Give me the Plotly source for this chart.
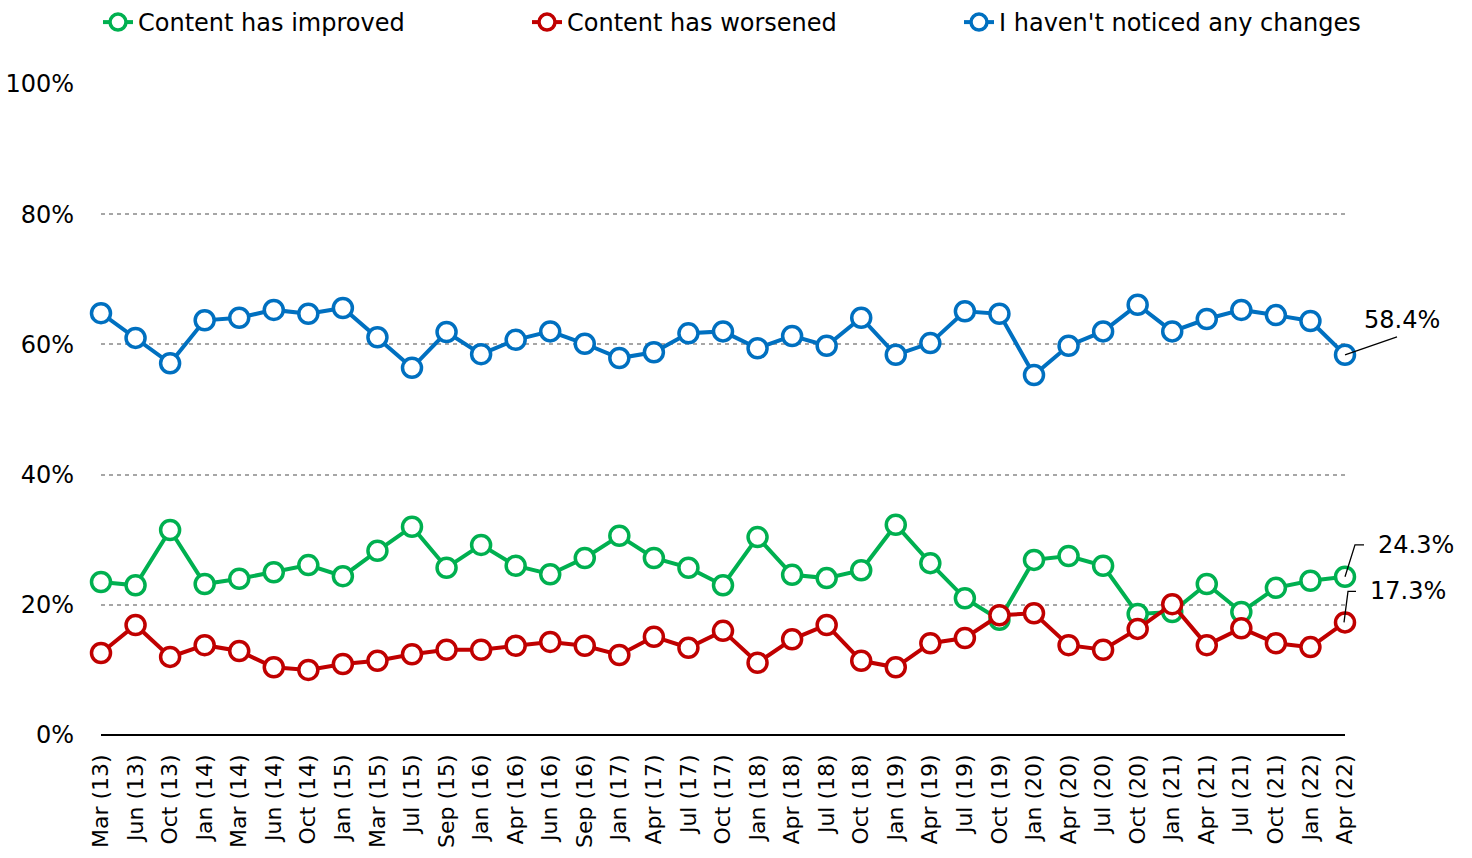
import plotly.graph_objects as go

periods = ["Mar (13)", "Jun (13)", "Oct (13)", "Jan (14)", "Mar (14)", "Jun (14)", "Oct (14)",
           "Jan (15)", "Mar (15)", "Jul (15)", "Sep (15)", "Jan (16)", "Apr (16)", "Jun (16)",
           "Sep (16)", "Jan (17)", "Apr (17)", "Jul (17)", "Oct (17)", "Jan (18)", "Apr (18)",
           "Jul (18)", "Oct (18)", "Jan (19)", "Apr (19)", "Jul (19)", "Oct (19)", "Jan (20)",
           "Apr (20)", "Jul (20)", "Oct (20)", "Jan (21)", "Apr (21)", "Jul (21)", "Oct (21)",
           "Jan (22)", "Apr (22)"]

improved = [23.5, 23.0, 31.5, 23.2, 24.0, 25.0, 26.1, 24.4, 28.3, 32.0, 25.7, 29.2, 26.0,
            24.7, 27.2, 30.6, 27.2, 25.7, 23.0, 30.4, 24.6, 24.1, 25.3, 32.3, 26.4, 21.0,
            17.7, 26.9, 27.5, 26.0, 18.6, 18.9, 23.2, 18.9, 22.6, 23.7, 24.3]

worsened = [12.6, 16.9, 12.0, 13.8, 12.9, 10.4, 10.0, 10.9, 11.4, 12.4, 13.1, 13.1, 13.7,
            14.3, 13.7, 12.3, 15.1, 13.4, 16.0, 11.1, 14.7, 16.9, 11.4, 10.4, 14.1, 14.9,
            18.4, 18.7, 13.8, 13.1, 16.3, 20.1, 13.8, 16.4, 14.1, 13.5, 17.3]

no_change = [64.8, 61.0, 57.1, 63.7, 64.1, 65.3, 64.7, 65.6, 61.1, 56.4, 61.9, 58.5, 60.7,
             62.0, 60.1, 57.9, 58.8, 61.7, 62.0, 59.4, 61.3, 59.8, 64.1, 58.4, 60.2, 65.1,
             64.7, 55.3, 59.8, 62.0, 66.1, 62.0, 63.9, 65.3, 64.5, 63.6, 58.4]

series = [
    ("Content has improved", improved, "#00B050", "legend", 98),
    ("Content has worsened", worsened, "#C00000", "legend2", 527),
    ("I haven't noticed any changes", no_change, "#0070C0", "legend3", 959),
]

FONT = "'DejaVu Sans', Verdana, sans-serif"
W, H = 1472, 858

fig = go.Figure()
legends = {}
for name, vals, col, leg, lx in series:
    fig.add_trace(go.Scatter(
        x=list(range(len(periods))), y=vals, name=name, mode="lines+markers",
        line=dict(color=col, width=4),
        marker=dict(symbol="circle", size=19, color="white", line=dict(color=col, width=3.5)),
        cliponaxis=False, legend=leg,
    ))
    legends[leg] = dict(orientation="h", x=lx / W, xanchor="left", y=1.0, yanchor="top",
                        xref="container", yref="container",
                        font=dict(family=FONT, size=24, color="black"),
                        itemclick=False, itemdoubleclick=False,
                        bgcolor="rgba(0,0,0,0)", borderwidth=0)

last = len(periods) - 1

# value labels for the final survey round, with leader lines
labels = [
    (no_change[-1], 17, 35, [(0, 0), (52, 18)]),
    (improved[-1], 31, 32, [(0, 0), (10, 32), (19, 32)]),
    (worsened[-1], 23, 31, [(-1, 0), (3, 31), (11, 31)]),
]
for val, dx, dy, pts in labels:
    path = "M " + " L ".join(f"{px},{py}" for px, py in pts)
    fig.add_shape(type="path", xref="paper", yref="y", xsizemode="pixel", ysizemode="pixel",
                  xanchor=1.0, yanchor=val, path=path,
                  line=dict(color="black", width=1.3), layer="above")
    fig.add_annotation(x=last, y=val, xref="x", yref="y", text=f"{val:.1f}%",
                       showarrow=False, xanchor="left", yanchor="middle",
                       xshift=dx, yshift=dy, font=dict(family=FONT, size=24, color="black"))

fig.update_layout(
    width=W, height=H,
    margin=dict(l=101, r=127, t=84, b=123, autoexpand=False),
    paper_bgcolor="white", plot_bgcolor="white",
    font=dict(family=FONT, size=24, color="black"),
    showlegend=True,
    xaxis=dict(
        tickmode="array", tickvals=list(range(len(periods))), ticktext=periods,
        tickangle=-90, range=[0, last], showgrid=False, zeroline=False,
        showline=False, ticks="", ticklabelstandoff=14, automargin=False,
        tickfont=dict(family=FONT, size=22),
    ),
    yaxis=dict(
        range=[0, 100], tickvals=[0, 20, 40, 60, 80, 100],
        ticktext=["0%", "20%", "40%", "60%", "80%", "100%"],
        showgrid=True, gridcolor="#A6A6A6", griddash="4px,4px", gridwidth=2,
        zeroline=True, zerolinecolor="black", zerolinewidth=2,
        showline=False, ticks="", ticklabelstandoff=26, automargin=False,
        tickfont=dict(family=FONT, size=24),
    ),
    **legends,
)

fig.write_html("out.html")
